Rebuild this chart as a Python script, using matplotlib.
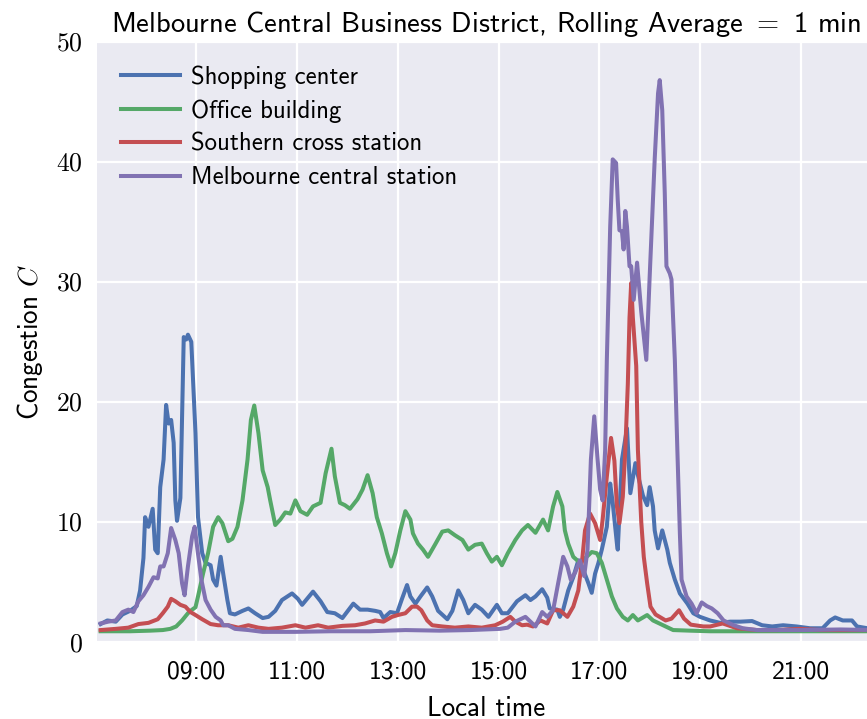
import pandas as pd
import numpy as np
import matplotlib
matplotlib.use("Agg")
import matplotlib.pyplot as plt
from matplotlib.ticker import FuncFormatter

# Congestion, per location (time "HH:MM", value)
shop_t = ["07:06", "07:14", "07:24", "07:32", "07:41", "07:49", "07:53", "07:57", "07:59", "08:03",
          "08:08", "08:11", "08:14", "08:17", "08:21", "08:24", "08:27", "08:30", "08:33", "08:35",
          "08:37", "08:41", "08:45", "08:48", "08:50", "08:54", "08:59", "09:02", "09:07", "09:11",
          "09:17", "09:20", "09:24", "09:29", "09:32", "09:37", "09:40", "09:46", "09:55", "10:02",
          "10:10", "10:19", "10:26", "10:34", "10:42", "10:54", "11:01", "11:06", "11:19", "11:28",
          "11:36", "11:45", "11:54", "12:07", "12:15", "12:24", "12:33", "12:39", "12:43", "12:51",
          "12:59", "13:05", "13:11", "13:15", "13:21", "13:27", "13:35", "13:41", "13:48", "13:59",
          "14:05", "14:12", "14:18", "14:24", "14:32", "14:40", "14:48", "14:58", "15:04", "15:11",
          "15:22", "15:32", "15:38", "15:44", "15:52", "15:58", "16:01", "16:10", "16:13", "16:17",
          "16:23", "16:29", "16:35", "16:41", "16:47", "16:51", "16:55", "16:59", "17:03", "17:09",
          "17:13", "17:16", "17:21", "17:22", "17:27", "17:33", "17:37", "17:43", "17:46", "17:52",
          "17:57", "18:00", "18:04", "18:06", "18:10", "18:15", "18:18", "18:21", "18:24", "18:30",
          "18:36", "18:45", "18:52", "19:00", "19:12", "19:24", "19:36", "19:48", "20:02", "20:14",
          "20:26", "20:39", "20:55", "21:11", "21:26", "21:35", "21:41", "21:50", "22:01", "22:07",
          "22:19", "22:28"]
shop_v = [1.5, 1.8, 1.7, 2.3, 2.6, 3.0, 4.3, 7.0, 10.4, 9.6,
          11.1, 7.7, 7.4, 12.9, 15.2, 19.75, 18.2, 18.5, 16.6, 11.8,
          10.1, 12.0, 25.4, 25.2, 25.6, 25.0, 17.4, 10.4, 7.4, 6.6,
          6.4, 5.2, 4.7, 7.1, 5.7, 3.5, 2.4, 2.3, 2.6, 2.8,
          2.4, 2.0, 2.1, 2.6, 3.5, 4.05, 3.6, 3.1, 4.2, 3.4,
          2.5, 2.4, 2.0, 3.2, 2.7, 2.7, 2.6, 2.5, 2.0, 2.5,
          2.4, 3.6, 4.75, 3.8, 3.2, 3.8, 4.55, 3.8, 2.6, 1.9,
          2.6, 4.3, 3.5, 2.4, 3.1, 2.7, 2.1, 3.1, 2.4, 2.4,
          3.4, 3.9, 3.5, 3.8, 4.4, 3.7, 2.8, 2.7, 2.1, 2.7,
          4.3, 5.4, 6.8, 6.0, 4.9, 4.1, 5.7, 6.6, 7.7, 9.6,
          13.2, 11.6, 8.2, 7.7, 15.2, 17.8, 12.4, 14.9, 13.9, 12.2,
          11.4, 12.9, 11.3, 9.3, 7.8, 9.3, 8.5, 7.7, 6.6, 5.2,
          4.05, 3.2, 2.4, 2.1, 1.8, 1.6, 1.7, 1.7, 1.75, 1.4,
          1.3, 1.4, 1.3, 1.15, 1.15, 1.8, 2.05, 1.8, 1.8, 1.3,
          1.15, 1.1]

office_t = ["07:06", "07:41", "08:05", "08:20", "08:29", "08:36", "08:43", "08:50", "08:55", "08:59",
            "09:02", "09:08", "09:14", "09:20", "09:26", "09:31", "09:38", "09:43", "09:49", "09:55",
            "10:01", "10:05", "10:09", "10:14", "10:19", "10:25", "10:28", "10:34", "10:40", "10:46",
            "10:52", "10:58", "11:04", "11:12", "11:19", "11:28", "11:34", "11:41", "11:45", "11:51",
            "11:57", "12:03", "12:12", "12:18", "12:24", "12:30", "12:35", "12:41", "12:47", "12:52",
            "12:57", "13:03", "13:09", "13:15", "13:18", "13:24", "13:30", "13:36", "13:45", "13:53",
            "14:00", "14:08", "14:17", "14:24", "14:32", "14:40", "14:46", "14:52", "14:58", "15:04",
            "15:11", "15:20", "15:28", "15:35", "15:44", "15:53", "15:59", "16:05", "16:10", "16:16",
            "16:19", "16:23", "16:29", "16:37", "16:45", "16:51", "16:57", "17:03", "17:09", "17:15",
            "17:21", "17:28", "17:34", "17:40", "17:46", "17:57", "18:04", "18:16", "18:28", "18:48",
            "19:12", "20:11", "21:23", "22:28"]
office_v = [0.9, 0.9, 0.95, 1.0, 1.1, 1.3, 1.8, 2.4, 2.7, 2.9,
            3.8, 5.7, 7.4, 9.6, 10.4, 9.9, 8.4, 8.6, 9.6, 11.8,
            15.2, 18.5, 19.7, 17.4, 14.3, 12.9, 11.8, 9.75, 10.2, 10.8,
            10.7, 11.8, 10.9, 10.6, 11.3, 11.6, 14.05, 16.1, 13.8, 11.6,
            11.4, 11.1, 11.9, 12.7, 13.9, 12.4, 10.4, 9.05, 7.4, 6.3,
            7.4, 9.3, 10.9, 10.2, 9.05, 8.2, 7.7, 7.1, 8.2, 9.2,
            9.3, 8.9, 8.5, 7.7, 8.1, 8.2, 7.4, 6.7, 7.1, 6.4,
            7.4, 8.5, 9.3, 9.75, 9.1, 10.2, 9.3, 11.3, 12.5, 11.3,
            9.3, 8.2, 7.1, 6.6, 7.1, 7.5, 7.4, 6.6, 5.2, 3.8,
            2.8, 2.1, 1.8, 2.25, 1.8, 2.25, 1.8, 1.4, 1.0, 0.95,
            0.9, 0.9, 0.9, 0.9]

southern_t = ["07:06", "07:24", "07:39", "07:51", "08:03", "08:14", "08:20", "08:26", "08:30", "08:35",
              "08:41", "08:47", "08:53", "08:59", "09:07", "09:17", "09:26", "09:38", "09:50", "10:02",
              "10:14", "10:26", "10:42", "10:58", "11:10", "11:25", "11:37", "11:54", "12:09", "12:21",
              "12:33", "12:43", "12:53", "13:00", "13:09", "13:17", "13:23", "13:28", "13:35", "13:41",
              "13:53", "14:08", "14:24", "14:40", "14:56", "15:05", "15:14", "15:20", "15:28", "15:34",
              "15:41", "15:50", "15:58", "16:05", "16:13", "16:22", "16:29", "16:35", "16:40", "16:43",
              "16:49", "16:55", "17:01", "17:04", "17:09", "17:14", "17:18", "17:21", "17:24", "17:28",
              "17:31", "17:34", "17:36", "17:38", "17:40", "17:44", "17:46", "17:50", "17:53", "17:57",
              "18:01", "18:07", "18:19", "18:26", "18:35", "18:41", "18:49", "19:04", "19:12", "19:27",
              "19:44", "20:08", "20:32", "20:59", "21:23", "22:28"]
southern_v = [1.0, 1.1, 1.2, 1.5, 1.6, 1.9, 2.4, 2.95, 3.6, 3.4,
              3.1, 2.95, 2.5, 2.25, 1.9, 1.5, 1.4, 1.4, 1.2, 1.4,
              1.2, 1.1, 1.2, 1.4, 1.2, 1.4, 1.2, 1.35, 1.4, 1.55,
              1.8, 1.7, 2.1, 2.25, 2.4, 2.95, 2.95, 2.65, 1.8, 1.4,
              1.3, 1.2, 1.3, 1.2, 1.4, 1.7, 2.1, 1.7, 1.4, 1.45,
              1.3, 1.8, 1.55, 2.65, 2.65, 2.1, 2.95, 4.3, 7.1, 9.3,
              10.7, 9.9, 8.5, 10.2, 13.8, 17.0, 15.1, 11.3, 9.9, 12.1,
              16.0, 21.5, 27.0, 29.9, 27.0, 23.0, 16.0, 10.0, 7.1, 4.9,
              2.95, 2.3, 1.8, 1.95, 2.65, 1.95, 1.45, 1.3, 1.3, 1.55,
              1.15, 1.0, 1.0, 1.1, 1.0, 1.0]

central_t = ["07:06", "07:15", "07:24", "07:32", "07:39", "07:45", "07:51", "07:57", "08:03", "08:09",
             "08:14", "08:17", "08:21", "08:26", "08:30", "08:35", "08:39", "08:43", "08:46", "08:50",
             "08:55", "08:58", "09:01", "09:06", "09:11", "09:17", "09:23", "09:29", "09:32", "09:38",
             "09:46", "10:02", "10:19", "10:58", "11:40", "12:27", "13:09", "13:50", "14:26", "15:02",
             "15:11", "15:20", "15:32", "15:38", "15:44", "15:52", "15:58", "16:05", "16:11", "16:17",
             "16:22", "16:26", "16:31", "16:37", "16:42", "16:46", "16:50", "16:54", "16:58", "17:01",
             "17:04", "17:07", "17:09", "17:13", "17:16", "17:20", "17:22", "17:24", "17:27", "17:29",
             "17:31", "17:33", "17:36", "17:38", "17:41", "17:45", "17:50", "17:56", "18:00", "18:06",
             "18:10", "18:12", "18:15", "18:18", "18:20", "18:24", "18:26", "18:30", "18:33", "18:36",
             "18:38", "18:44", "18:50", "18:56", "19:02", "19:08", "19:14", "19:21", "19:28", "19:40",
             "19:51", "20:08", "20:59", "21:47", "22:28"]
central_v = [1.55, 1.7, 1.8, 2.5, 2.7, 2.5, 3.4, 3.9, 4.6, 5.4,
             5.3, 6.3, 6.3, 7.4, 9.5, 8.5, 7.4, 4.9, 3.9, 6.3,
             8.8, 9.6, 7.9, 5.2, 3.5, 2.7, 2.1, 1.8, 1.4, 1.4,
             1.1, 1.0, 0.85, 0.85, 0.9, 0.9, 1.0, 0.95, 1.0, 1.1,
             1.2, 1.7, 2.1, 1.7, 1.3, 2.5, 2.1, 2.65, 4.9, 7.1,
             6.3, 5.2, 5.75, 6.8, 5.5, 7.7, 15.2, 18.8, 15.2, 12.7,
             11.8, 16.0, 23.5, 34.6, 40.2, 39.9, 36.8, 34.3, 34.2, 32.7,
             35.9, 34.6, 31.3, 31.3, 28.5, 31.6, 27.5, 23.5, 30.4, 40.2,
             45.7, 46.8, 44.3, 37.4, 31.3, 30.7, 30.2, 23.5, 16.0, 9.05,
             5.2, 3.8, 3.2, 2.4, 3.3, 3.0, 2.8, 2.4, 1.8, 1.4,
             1.15, 1.0, 1.0, 1.05, 1.0]

labels = ["Shopping center", "Office building", "Southern cross station", "Melbourne central station"]
colors = ["#4C72B0", "#55A868", "#C44E52", "#8172B2"]
tick_hours = [9, 11, 13, 15, 17, 19, 21]


def to_hours(times):
    td = pd.to_timedelta([t + ":00" for t in times])
    return td.total_seconds() / 3600.0


plt.rcParams["font.family"] = ["cmss10", "DejaVu Sans"]
plt.rcParams["mathtext.fontset"] = "cm"
plt.rcParams["axes.unicode_minus"] = False

fig = plt.figure(figsize=(8.67, 7.19), dpi=100)
ax = fig.add_axes([0.112, 0.107, 0.897, 0.835])
ax.set_facecolor("#EAEAF2")
for s in ax.spines.values():
    s.set_visible(False)
ax.grid(True, color="white", linewidth=1.6)
ax.set_axisbelow(True)
ax.tick_params(length=0, labelsize=18.5)
ax.tick_params(axis="x", pad=13)
ax.tick_params(axis="y", pad=10)

series = [(shop_t, shop_v), (office_t, office_v), (southern_t, southern_v), (central_t, central_v)]
for (t, v), lab, c in zip(series, labels, colors):
    ax.plot(to_hours(t), v, color=c, lw=2.9, label=lab)

ax.set_xlim(7.03, 22.47)
ax.set_ylim(0, 50)
ax.set_xticks(tick_hours)
ax.set_xticklabels([f"{h:02d}:00" for h in tick_hours])
ax.set_yticks([0, 10, 20, 30, 40, 50])
ax.yaxis.set_major_formatter(FuncFormatter(lambda v, p: f"${v:g}$"))

ax.set_xlabel("Local time", fontsize=19.5, labelpad=9)
ax.set_ylabel("Congestion $C$", fontsize=19.5, labelpad=8)
ax.set_title("Melbourne Central Business District, Rolling Average $=$ 1 min", fontsize=20.5, pad=7)

ax.legend(loc="upper left", fontsize=17.8, frameon=False, handlelength=2.4,
          handletextpad=0.45, labelspacing=0.42, borderaxespad=0.55)

fig.savefig("out.png", dpi=100)
